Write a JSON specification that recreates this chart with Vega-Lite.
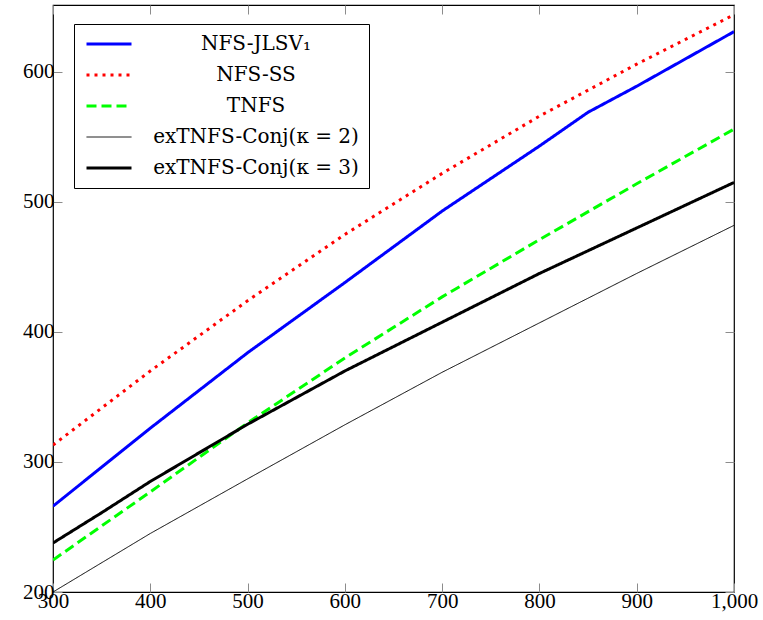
{
  "$schema": "https://vega.github.io/schema/vega-lite/v6.json",
  "width": 681,
  "height": 587,
  "autosize": {"type": "none"},
  "padding": {"left": 53, "top": 5, "right": 29, "bottom": 28},
  "background": "white",
  "config": {
    "view": {"stroke": "#000000", "strokeWidth": 1.2},
    "font": "Liberation Serif"
  },
  "data": {
    "values": [
      {"x": 300, "y": 266, "series": "NFS-JLSV₁"},
      {"x": 400, "y": 326, "series": "NFS-JLSV₁"},
      {"x": 500, "y": 384, "series": "NFS-JLSV₁"},
      {"x": 600, "y": 438, "series": "NFS-JLSV₁"},
      {"x": 700, "y": 493, "series": "NFS-JLSV₁"},
      {"x": 800, "y": 543, "series": "NFS-JLSV₁"},
      {"x": 850, "y": 569, "series": "NFS-JLSV₁"},
      {"x": 900, "y": 589, "series": "NFS-JLSV₁"},
      {"x": 1000, "y": 631, "series": "NFS-JLSV₁"},
      {"x": 300, "y": 313, "series": "NFS-SS"},
      {"x": 400, "y": 370, "series": "NFS-SS"},
      {"x": 500, "y": 424, "series": "NFS-SS"},
      {"x": 600, "y": 475, "series": "NFS-SS"},
      {"x": 700, "y": 522, "series": "NFS-SS"},
      {"x": 800, "y": 566, "series": "NFS-SS"},
      {"x": 900, "y": 606, "series": "NFS-SS"},
      {"x": 1000, "y": 644, "series": "NFS-SS"},
      {"x": 300, "y": 224.6, "series": "TNFS"},
      {"x": 400, "y": 277, "series": "TNFS"},
      {"x": 500, "y": 330, "series": "TNFS"},
      {"x": 600, "y": 380, "series": "TNFS"},
      {"x": 700, "y": 427, "series": "TNFS"},
      {"x": 800, "y": 471, "series": "TNFS"},
      {"x": 900, "y": 514, "series": "TNFS"},
      {"x": 1000, "y": 556, "series": "TNFS"},
      {"x": 300, "y": 200, "series": "exTNFS-Conj(κ = 2)"},
      {"x": 400, "y": 245, "series": "exTNFS-Conj(κ = 2)"},
      {"x": 500, "y": 287, "series": "exTNFS-Conj(κ = 2)"},
      {"x": 600, "y": 328.6, "series": "exTNFS-Conj(κ = 2)"},
      {"x": 700, "y": 369, "series": "exTNFS-Conj(κ = 2)"},
      {"x": 800, "y": 407, "series": "exTNFS-Conj(κ = 2)"},
      {"x": 900, "y": 445, "series": "exTNFS-Conj(κ = 2)"},
      {"x": 1000, "y": 482, "series": "exTNFS-Conj(κ = 2)"},
      {"x": 300, "y": 237.7, "series": "exTNFS-Conj(κ = 3)"},
      {"x": 350, "y": 261, "series": "exTNFS-Conj(κ = 3)"},
      {"x": 400, "y": 285, "series": "exTNFS-Conj(κ = 3)"},
      {"x": 500, "y": 329, "series": "exTNFS-Conj(κ = 3)"},
      {"x": 600, "y": 370, "series": "exTNFS-Conj(κ = 3)"},
      {"x": 700, "y": 407.5, "series": "exTNFS-Conj(κ = 3)"},
      {"x": 800, "y": 445, "series": "exTNFS-Conj(κ = 3)"},
      {"x": 900, "y": 480, "series": "exTNFS-Conj(κ = 3)"},
      {"x": 1000, "y": 515, "series": "exTNFS-Conj(κ = 3)"}
    ]
  },
  "layer": [
    {
      "mark": {"type": "line", "clip": true},
      "encoding": {
        "x": {
          "field": "x", "type": "quantitative",
          "scale": {"domain": [300, 1000], "nice": false, "zero": false},
          "axis": {
            "orient": "bottom", "title": null, "values": [300, 400, 500, 600, 700, 800, 900, 1000],
            "labelExpr": "format(datum.value, ',')", "domain": false, "grid": false,
            "tickSize": -9, "tickColor": "#8c8c8c", "tickWidth": 1,
            "labelFont": "Liberation Serif", "labelFontSize": 21, "labelColor": "#000",
            "labelPadding": 7, "labelFlush": false, "labelOverlap": false
          }
        },
        "y": {
          "field": "y", "type": "quantitative",
          "scale": {"domain": [200, 651.5], "nice": false, "zero": false},
          "axis": {
            "orient": "left", "title": null, "values": [200, 300, 400, 500, 600],
            "domain": false, "grid": false,
            "tickSize": -9, "tickColor": "#8c8c8c", "tickWidth": 1,
            "labelFont": "Liberation Serif", "labelFontSize": 21, "labelColor": "#000",
            "labelPadding": 8, "labelFlush": false, "labelOverlap": false
          }
        },
        "color": {
          "field": "series", "type": "ordinal",
          "scale": {
            "type": "ordinal",
            "domain": ["NFS-JLSV₁", "NFS-SS", "TNFS", "exTNFS-Conj(κ = 2)", "exTNFS-Conj(κ = 3)"],
            "range": ["#0000ff", "#ff0000", "#00ff00", "#000000", "#000000"]
          },
          "legend": {
            "title": null, "orient": "none", "legendX": 21, "legendY": 19,
            "symbolType": "M-1,0H5", "symbolSize": 225,
            "labelFont": "DejaVu Serif", "labelFontSize": 20, "labelColor": "#000",
            "labelAlign": "center", "labelOffset": 152, "labelLimit": 400,
            "rowPadding": 11, "padding": 10, "strokeColor": "#000", "fillColor": "#fff",
            "symbolOpacity": 1
          }
        },
        "strokeDash": {
          "field": "series", "type": "ordinal",
          "scale": {
            "type": "ordinal",
            "domain": ["NFS-JLSV₁", "NFS-SS", "TNFS", "exTNFS-Conj(κ = 2)", "exTNFS-Conj(κ = 3)"],
            "range": [[1, 0], [3, 5], [10, 5], [1, 0], [1, 0]]
          },
          "legend": {
            "title": null, "orient": "none", "legendX": 21, "legendY": 19,
            "symbolType": "M-1,0H5", "symbolSize": 225,
            "labelFont": "DejaVu Serif", "labelFontSize": 20, "labelColor": "#000",
            "labelAlign": "center", "labelOffset": 152, "labelLimit": 400,
            "rowPadding": 11, "padding": 10, "strokeColor": "#000", "fillColor": "#fff"
          }
        },
        "strokeWidth": {
          "field": "series", "type": "ordinal",
          "scale": {
            "type": "ordinal",
            "domain": ["NFS-JLSV₁", "NFS-SS", "TNFS", "exTNFS-Conj(κ = 2)", "exTNFS-Conj(κ = 3)"],
            "range": [3, 3, 3, 1, 3]
          },
          "legend": {
            "title": null, "orient": "none", "legendX": 21, "legendY": 19,
            "symbolType": "M-1,0H5", "symbolSize": 225,
            "labelFont": "DejaVu Serif", "labelFontSize": 20, "labelColor": "#000",
            "labelAlign": "center", "labelOffset": 152, "labelLimit": 400,
            "rowPadding": 11, "padding": 10, "strokeColor": "#000", "fillColor": "#fff"
          }
        }
      }
    },
    {
      "mark": {"type": "line", "strokeOpacity": 0},
      "encoding": {
        "x": {
          "field": "x", "type": "quantitative",
          "axis": {
            "orient": "top", "title": null, "values": [300, 400, 500, 600, 700, 800, 900, 1000],
            "labels": false, "domain": false, "grid": false,
            "tickSize": -9, "tickColor": "#8c8c8c", "tickWidth": 1
          }
        },
        "y": {
          "field": "y", "type": "quantitative",
          "axis": {
            "orient": "right", "title": null, "values": [200, 300, 400, 500, 600],
            "labels": false, "domain": false, "grid": false,
            "tickSize": -9, "tickColor": "#8c8c8c", "tickWidth": 1
          }
        },
        "detail": {"field": "series", "type": "nominal"}
      }
    }
  ],
  "resolve": {"axis": {"x": "independent", "y": "independent"}}
}
